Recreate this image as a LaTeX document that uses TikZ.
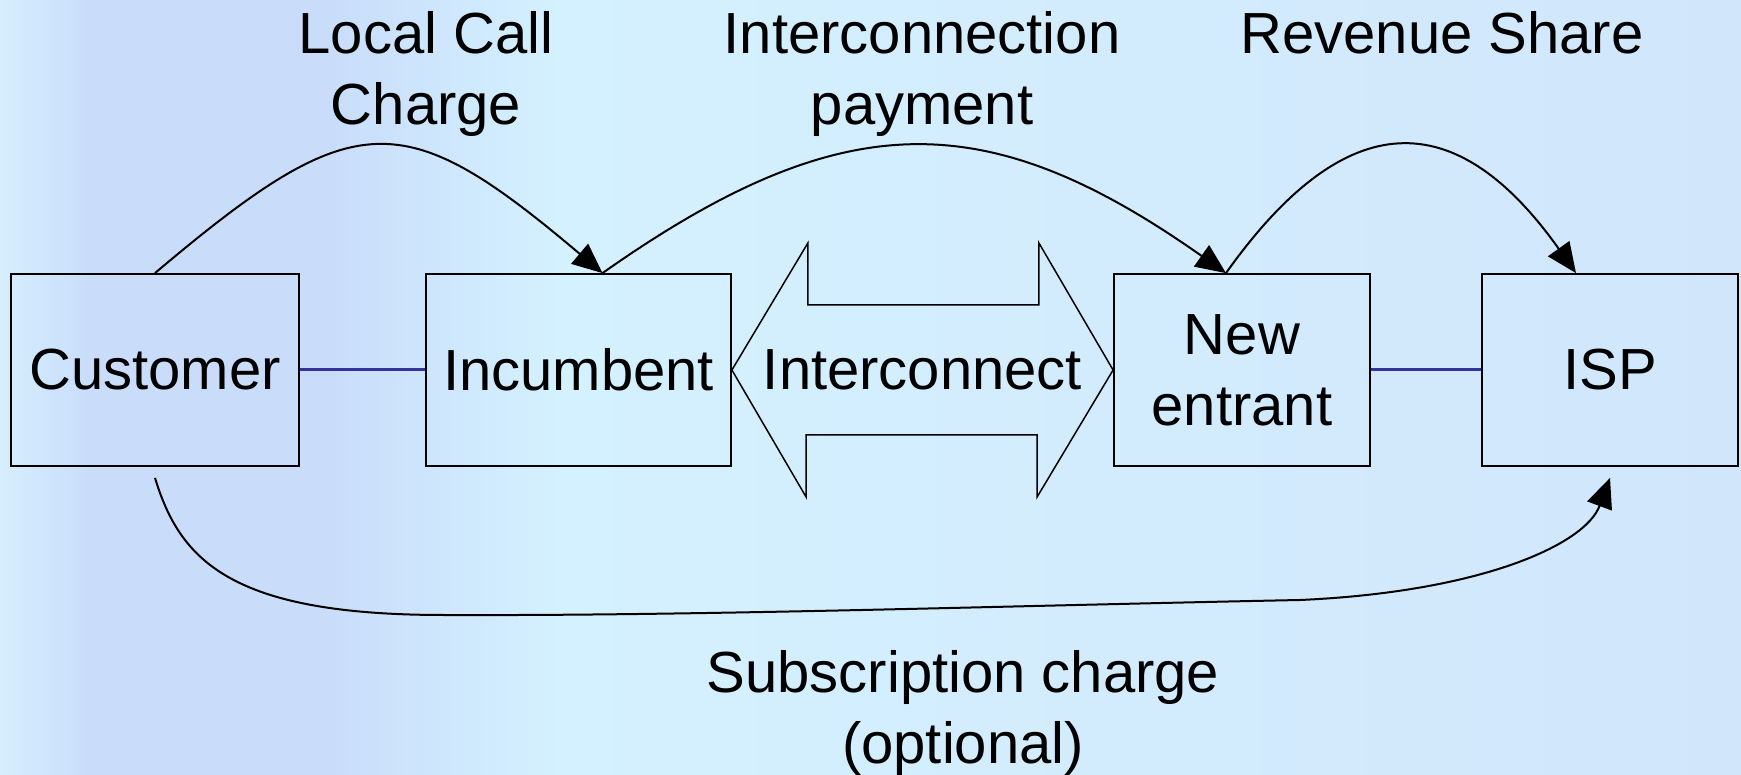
\documentclass[tikz,border=0pt]{standalone}
\usepackage{fontspec}
\setmainfont{Liberation Sans}
\usepackage{tikz}
\usepackage{xcolor}
\usetikzlibrary{arrows.meta, positioning, calc}
\definecolor{bgedge}{RGB}{214,238,253}
\definecolor{bgviolet}{RGB}{201,221,250}
\definecolor{bgcyan}{RGB}{212,241,255}
\definecolor{bgright}{RGB}{209,230,251}
\definecolor{linkcolor}{RGB}{51,51,153}
\tikzstyle{box} = [rectangle, draw, line width=1.8pt, minimum height=192pt, inner sep=0pt, align=center]
\tikzstyle{flowtext} = [inner sep=0pt, align=center]
\tikzstyle{arrow} = [-{Triangle[length=30pt, width=26pt]}, line width=2pt]
\tikzstyle{link} = [draw=linkcolor, line width=3pt]
\tikzstyle{dblarrow} = [draw, line width=1.5pt, line join=miter]

\begin{document}
\begin{tikzpicture}[x=1pt, y=1pt, font=\fontsize{58}{71}\selectfont]
    % background
    \useasboundingbox (0,0) rectangle (1741,-775);
    \fill[left color=bgedge, right color=bgviolet] (0,0) rectangle (90,-775);
    \fill[bgviolet] (90,0) rectangle (330,-775);
    \fill[left color=bgviolet, right color=bgcyan] (330,0) rectangle (560,-775);
    \fill[left color=bgcyan, right color=bgright] (560,0) rectangle (1741,-775);

    % parties
    \node[box, minimum width=288pt] (cust) at (155,-370) {Customer};
    \node[box, minimum width=305pt] (inc) at (578.5,-370) {Incumbent};
    \node[box, minimum width=256pt] (ne) at (1242,-370) {New\\entrant};
    \node[box, minimum width=256pt] (isp) at (1610,-370) {ISP};

    \draw[link] (cust) -- (inc);
    \draw[link] (ne) -- (isp);

    % interconnect
    \node[flowtext] (icn) at (922.5,-370) {Interconnect};
    \draw[dblarrow] (inc.east) -- ++(76,127) -- ++(0,-62) -- ++(231,0) -- ++(0,62)
        -- (ne.west) -- ++(-76,-127) -- ++(0,62) -- ++(-231,0) -- ++(0,-62) -- cycle;

    % payments
    \node[flowtext] (localcall) at (426,-74.5) {Local Call\\Charge};
    \node[flowtext] (icpay) at (922,-74.5) {Interconnection\\payment};
    \node[flowtext] (revshare) at (1442,-33) {Revenue Share};
    \node[flowtext] (subs) at (963,-713.5) {Subscription charge\\(optional)};

    \draw[arrow] (cust.north) .. controls +(200,169) and +(-200,169) .. ([xshift=24pt]inc.north);
    \draw[arrow] ([xshift=24pt]inc.north) .. controls +(240,169) and +(-240,169) .. ([xshift=-16pt]ne.north);
    \draw[arrow] ([xshift=-16pt]ne.north) .. controls +(120,169) and +(-120,169) .. ([xshift=-34pt]isp.north);
    \draw[arrow] ([yshift=-11pt]cust.south) .. controls (180,-560) and (230,-615) .. (444,-615)
        .. controls (700,-616) and (1000,-606) .. (1300,-600)
        .. controls (1480,-592) and (1585,-545) .. ([yshift=-11pt]isp.south);

\end{tikzpicture}
\end{document}
